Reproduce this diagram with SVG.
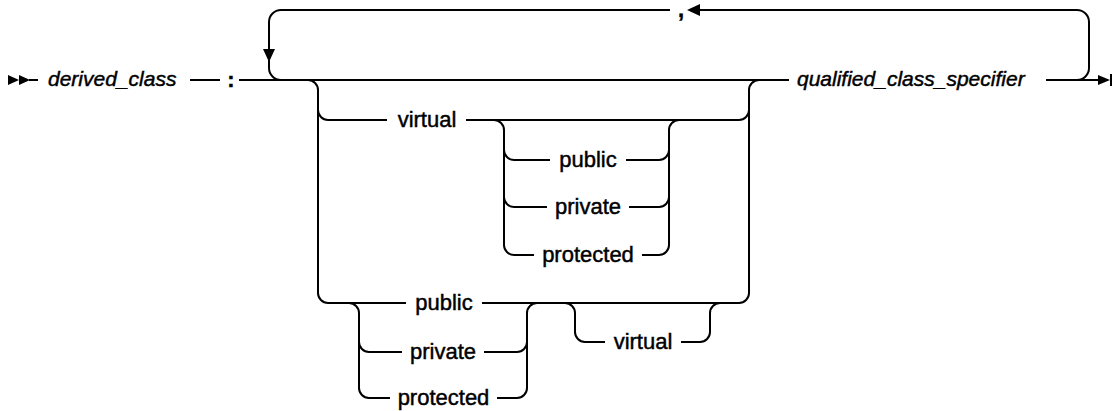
<svg xmlns="http://www.w3.org/2000/svg" width="1113" height="411" viewBox="0 0 1113 411">
<style>
.ln{fill:none;stroke:#000;stroke-width:2;stroke-linecap:butt}
.lb{font-family:"Liberation Sans",Arial,sans-serif;font-size:22px;fill:#000;stroke:#000;stroke-width:0.45;text-anchor:middle}
.it{font-family:"Liberation Sans",Arial,sans-serif;font-size:21px;font-style:italic;fill:#000;stroke:#000;stroke-width:0.45}
.ah{fill:#000;stroke:none}
</style>
<rect width="1113" height="411" fill="#fff"/>
<g id="connectors">
  <!-- start -->
  <polygon class="ah" points="8,75 8,85 19,80"/>
  <polygon class="ah" points="19,75 19,85 30,80"/>
  <path class="ln" d="M29 80 H38"/>
  <path class="ln" d="M190 80 H220"/>
  <!-- main line -->
  <path class="ln" d="M239 80 H789"/>
  <path class="ln" d="M1046 80 H1099"/>
  <polygon class="ah" points="1098,75 1098,85 1110,80"/>
  <path class="ln" d="M1111 74 V86"/>
  <!-- repeat loop -->
  <path class="ln" d="M1077 80 A12 12 0 0 0 1089 68 V22 A12 12 0 0 0 1077 10 H699"/>
  <polygon class="ah" points="687,10 700,4 700,16"/>
  <path class="ln" d="M670 10 H281 A12 12 0 0 0 269 22 V55"/>
  <polygon class="ah" points="263,49 275,49 269,62"/>
  <path class="ln" d="M269 60 V68 A12 12 0 0 0 281 80"/>
  <!-- outer choice left -->
  <path class="ln" d="M308 80 A10 10 0 0 1 318 90 V293 A10 10 0 0 0 328 303"/>
  <path class="ln" d="M318 110 A10 10 0 0 0 328 120"/>
  <!-- outer choice right -->
  <path class="ln" d="M739 303 A10 10 0 0 0 749 293 V90 A10 10 0 0 1 759 80"/>
  <path class="ln" d="M739 120 A10 10 0 0 0 749 110"/>
  <!-- row 120: virtual -->
  <path class="ln" d="M328 120 H387"/>
  <path class="ln" d="M466 120 H739"/>
  <!-- inner choice 1 -->
  <path class="ln" d="M494 120 A10 10 0 0 1 504 130 V245 A10 10 0 0 0 514 255"/>
  <path class="ln" d="M504 150 A10 10 0 0 0 514 160"/>
  <path class="ln" d="M504 197 A10 10 0 0 0 514 207"/>
  <path class="ln" d="M659 255 A10 10 0 0 0 669 245 V130 A10 10 0 0 1 679 120"/>
  <path class="ln" d="M659 160 A10 10 0 0 0 669 150"/>
  <path class="ln" d="M659 207 A10 10 0 0 0 669 197"/>
  <path class="ln" d="M514 160 H550"/>
  <path class="ln" d="M626 160 H659"/>
  <path class="ln" d="M514 207 H547"/>
  <path class="ln" d="M629 207 H659"/>
  <path class="ln" d="M514 255 H534"/>
  <path class="ln" d="M642 255 H659"/>
  <!-- row 303 -->
  <path class="ln" d="M328 303 H406"/>
  <path class="ln" d="M482 303 H739"/>
  <!-- inner choice 2 -->
  <path class="ln" d="M349 303 A10 10 0 0 1 359 313 V388 A10 10 0 0 0 369 398"/>
  <path class="ln" d="M359 342 A10 10 0 0 0 369 352"/>
  <path class="ln" d="M517 398 A10 10 0 0 0 527 388 V313 A10 10 0 0 1 537 303"/>
  <path class="ln" d="M517 352 A10 10 0 0 0 527 342"/>
  <path class="ln" d="M369 352 H402"/>
  <path class="ln" d="M484 352 H517"/>
  <path class="ln" d="M369 398 H390"/>
  <path class="ln" d="M497 398 H517"/>
  <!-- optional virtual -->
  <path class="ln" d="M565 303 A10 10 0 0 1 575 313 V332 A10 10 0 0 0 585 342 H605"/>
  <path class="ln" d="M681 342 H700 A10 10 0 0 0 710 332 V313 A10 10 0 0 1 720 303"/>
</g>
<g id="derived_class"><text class="it" x="48" y="86" font-size="20.5">derived_class</text></g>
<g id="colon"><text class="lb" x="231" y="87" font-weight="bold">:</text></g>
<g id="comma"><text class="lb" x="681" y="16.5" font-size="15" font-weight="bold">,</text></g>
<g id="qualified_class_specifier"><text class="it" x="797" y="86" font-size="21.5">qualified_class_specifier</text></g>
<g id="virtual1"><text class="lb" x="427" y="127">virtual</text></g>
<g id="public1"><text class="lb" x="588" y="167">public</text></g>
<g id="private1"><text class="lb" x="588" y="214">private</text></g>
<g id="protected1"><text class="lb" x="588" y="262">protected</text></g>
<g id="public2"><text class="lb" x="444" y="310">public</text></g>
<g id="private2"><text class="lb" x="443" y="359">private</text></g>
<g id="protected2"><text class="lb" x="443.5" y="405">protected</text></g>
<g id="virtual2"><text class="lb" x="643" y="349">virtual</text></g>
</svg>
